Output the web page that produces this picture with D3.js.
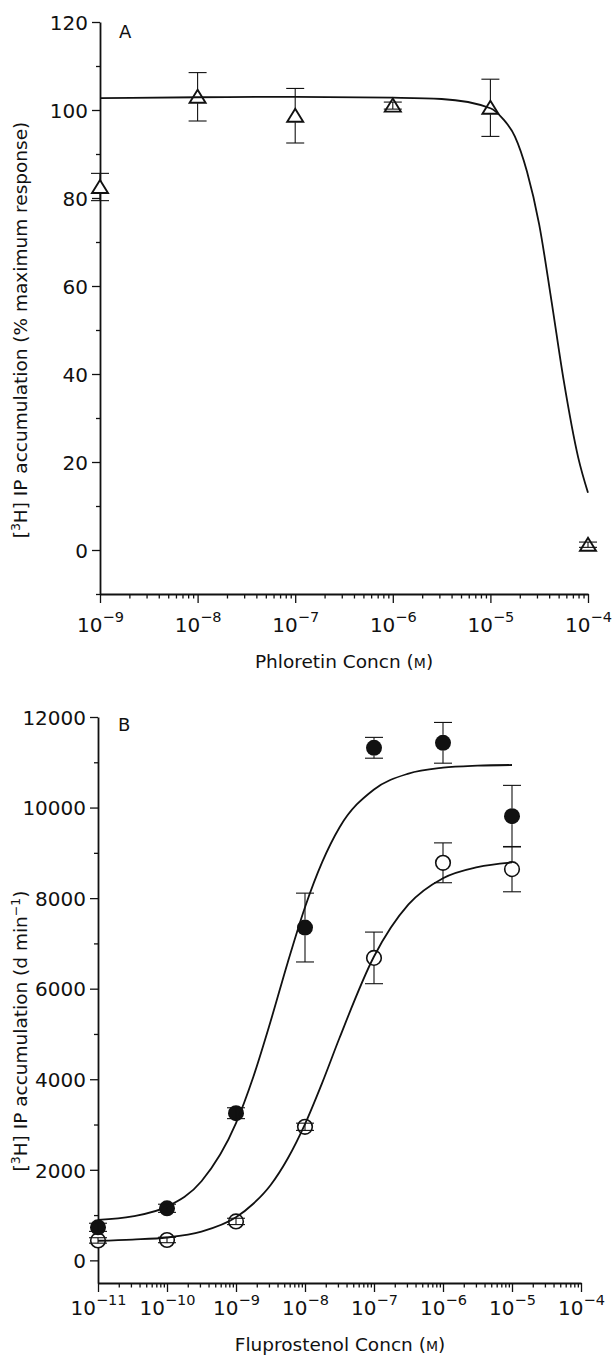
<!DOCTYPE html>
<html>
<head>
<meta charset="utf-8">
<script src="https://cdn.jsdelivr.net/npm/d3@7"></script>
<style>
  body { margin: 0; background: #fff; }
  text { font-family: "DejaVu Sans", sans-serif; fill: #111; }
</style>
</head>
<body>
<script>
// panel A - phloretin
var concA = [1e-9, 1e-8, 1e-7, 1e-6, 1e-5, 1e-4];
var respA = [82.5, 103, 98.7, 101, 100.5, 1.2];
var errA  = [3.1, 5.5, 6.2, 0.8, 6.5, 0.6];
// fitted line
var fitConcA = [1e-9, 1e-8, 1e-7, 1e-6, 3.16e-6, 1e-5, 1.33e-5, 1.78e-5, 2.37e-5, 3.16e-5, 4.22e-5, 5.62e-5, 7.94e-5, 1e-4];
var fitRespA = [102.7, 102.9, 103, 102.8, 102.5, 100.4, 98.1, 94, 86, 74, 56.7, 38.7, 21, 13];
var yTicksA = [0, 20, 40, 60, 80, 100, 120];

// panel B - fluprostenol
var concB = [1e-11, 1e-10, 1e-9, 1e-8, 1e-7, 1e-6, 1e-5];
var filledB = [730, 1150, 3250, 7350, 11320, 11430, 9810];
var filledErr = [90, 90, 120, 760, 230, 450, 680];
var openB = [440, 450, 860, 2950, 6680, 8780, 8640];
var openErr = [60, 60, 70, 80, 570, 440, 500];
var fitConcB = [1e-11, 3.16e-11, 1e-10, 3.16e-10, 1e-9, 1.78e-9, 3.16e-9, 5.62e-9, 1e-8, 1.78e-8, 3.16e-8, 1e-7, 3.16e-7, 1e-6, 3.16e-6, 1e-5];
var fitFilledB = [893, 972, 1186, 1747, 3030, 4050, 5270, 6580, 7800, 8800, 9560, 10400, 10750, 10880, 10925, 10940];
var fitOpenB = [433, 460, 505, 634, 951, 1250, 1660, 2250, 3010, 3925, 4910, 6710, 7860, 8440, 8685, 8790];
var yTicksB = [0, 2000, 4000, 6000, 8000, 10000, 12000];

var W = 612, H = 1355;
var svg = d3.select("body").append("svg").attr("width", W).attr("height", H);

var xA = d3.scaleLog().domain([1e-9, 1e-4]).range([100, 588]);
var yA = d3.scaleLinear().domain([-10, 120]).range([594, 22]);
var xB = d3.scaleLog().domain([1e-11, 1e-4]).range([98, 581]);
var yB = d3.scaleLinear().domain([-500, 12000]).range([1283, 717]);

function minorLog(lo, hi) {
    var out = [];
    for (var e = lo; e < hi; e++)
        for (var m = 2; m <= 9; m++) out.push(m * Math.pow(10, e));
    return out;
}

function drawAxes(x, y, yTicks, yMinor, expLo, expHi, labelY) {
    var g = svg.append("g");
    // x minor ticks
    g.append("g").attr("transform", "translate(0," + y.range()[0] + ")")
        .call(d3.axisBottom(x).tickValues(minorLog(expLo, expHi)).tickSize(4.5).tickSizeOuter(0).tickFormat(""))
        .call(a => a.select(".domain").remove());
    // x major ticks + labels
    var decades = d3.range(expLo, expHi + 1).map(e => Math.pow(10, e));
    var xa = g.append("g").attr("transform", "translate(0," + y.range()[0] + ")")
        .call(d3.axisBottom(x).tickValues(decades).tickSize(9).tickSizeOuter(0).tickFormat(""));
    xa.selectAll(".tick").each(function(d) {
        var t = d3.select(this).append("text").attr("y", labelY).attr("text-anchor", "middle")
            .style("font-size", "20px");
        t.append("tspan").text("10");
        t.append("tspan").attr("dy", -10).style("font-size", "14.5px").text("\u2212" + Math.round(-Math.log10(d)));
    });
    // y minor
    g.append("g").attr("transform", "translate(" + x.range()[0] + ",0)")
        .call(d3.axisLeft(y).tickValues(yMinor).tickSize(4).tickSizeOuter(0).tickFormat(""))
        .call(a => a.select(".domain").remove());
    // y major
    g.append("g").attr("transform", "translate(" + x.range()[0] + ",0)")
        .call(d3.axisLeft(y).tickValues(yTicks).tickSize(8).tickSizeOuter(0).tickPadding(4).tickFormat(d3.format("d")))
        .call(a => a.selectAll(".tick text").style("font-size", "20px").attr("dy", "0.36em"));
    g.selectAll("path.domain").attr("stroke-width", 1.8).attr("stroke", "#111");
    g.selectAll(".tick line").attr("stroke-width", 1.3).attr("stroke", "#111");
    g.selectAll(".tick text").attr("fill", "#111");
    return g;
}

drawAxes(xA, yA, yTicksA, d3.range(-10, 121, 10).filter(v => v % 20 !== 0), -9, -4, 38);
drawAxes(xB, yB, yTicksB, d3.range(1000, 12000, 2000), -11, -4, 32);

// panel letters
svg.append("text").attr("x", 119).attr("y", 38).style("font-size", "18px").text("A");
svg.append("text").attr("x", 118).attr("y", 731).style("font-size", "18px").text("B");

// axis titles
function xTitle(cx, cy, name) {
    var t = svg.append("text").attr("x", cx).attr("y", cy).attr("text-anchor", "middle").style("font-size", "18.5px");
    t.append("tspan").text(name + " Concn (");
    t.append("tspan").style("font-size", "14px").text("M");
    t.append("tspan").text(")");
}
xTitle(344, 668, "Phloretin");
xTitle(340, 1351, "Fluprostenol");

function yTitle(cx, cy, tail, sup) {
    var t = svg.append("text").attr("transform", "translate(" + cx + "," + cy + ") rotate(-90)")
        .attr("text-anchor", "middle").style("font-size", "18.5px");
    t.append("tspan").text("[");
    t.append("tspan").attr("dy", -7).style("font-size", "12.5px").text("3");
    t.append("tspan").attr("dy", 7).text("H] IP accumulation (" + tail);
    if (sup) {
        t.append("tspan").attr("dy", -7).style("font-size", "12.5px").text(sup);
        t.append("tspan").attr("dy", 7).text(")");
    }
}
yTitle(27, 330, "% maximum response)", null);
yTitle(27, 1031, "d min", "\u22121");

// error bars, caps drawn whole, stems kept outside the marker
function errorBars(x, y, conc, vals, errs, r) {
    var g = svg.append("g").attr("stroke", "#111").attr("stroke-width", 1.1).attr("fill", "none");
    conc.forEach(function(c, i) {
        var cx = x(c), top = y(vals[i] + errs[i]), bot = y(vals[i] - errs[i]), cy = y(vals[i]);
        if (cy - top > r) {
            g.append("line").attr("x1", cx).attr("x2", cx).attr("y1", top).attr("y2", cy - r);
            g.append("line").attr("x1", cx).attr("x2", cx).attr("y1", cy + r).attr("y2", bot);
        } else {
            g.append("line").attr("x1", cx).attr("x2", cx).attr("y1", top).attr("y2", bot);
        }
        g.append("line").attr("x1", cx - 9).attr("x2", cx + 9).attr("y1", top).attr("y2", top);
        g.append("line").attr("x1", cx - 9).attr("x2", cx + 9).attr("y1", bot).attr("y2", bot);
    });
}

// panel A markers
svg.append("g").selectAll("path").data(concA).join("path")
    .attr("transform", (d, i) => "translate(" + xA(d) + "," + yA(respA[i]) + ")")
    .attr("d", "M0,-7L8,6L-8,6Z")
    .attr("fill", "#fff").attr("stroke", "#111").attr("stroke-width", 1.9);
errorBars(xA, yA, concA, respA, errA, 6.5);

// panel B markers
svg.append("g").selectAll("circle").data(concB).join("circle")
    .attr("cx", d => xB(d)).attr("cy", (d, i) => yB(openB[i])).attr("r", 7.3)
    .attr("fill", "#fff").attr("stroke", "#111").attr("stroke-width", 1.6);
svg.append("g").selectAll("circle").data(concB).join("circle")
    .attr("cx", d => xB(d)).attr("cy", (d, i) => yB(filledB[i])).attr("r", 8)
    .attr("fill", "#111");
errorBars(xB, yB, concB, openB, openErr, 7.3);
errorBars(xB, yB, concB, filledB, filledErr, 8);

// fitted curves
function curve(x, y, cs, vs) {
    svg.append("path").datum(cs.map((c, i) => [c, vs[i]]))
        .attr("fill", "none").attr("stroke", "#111").attr("stroke-width", 1.8)
        .attr("d", d3.line().x(d => x(d[0])).y(d => y(d[1])).curve(d3.curveMonotoneX));
}
curve(xA, yA, fitConcA, fitRespA);
curve(xB, yB, fitConcB, fitFilledB);
curve(xB, yB, fitConcB, fitOpenB);
</script>
</body>
</html>
